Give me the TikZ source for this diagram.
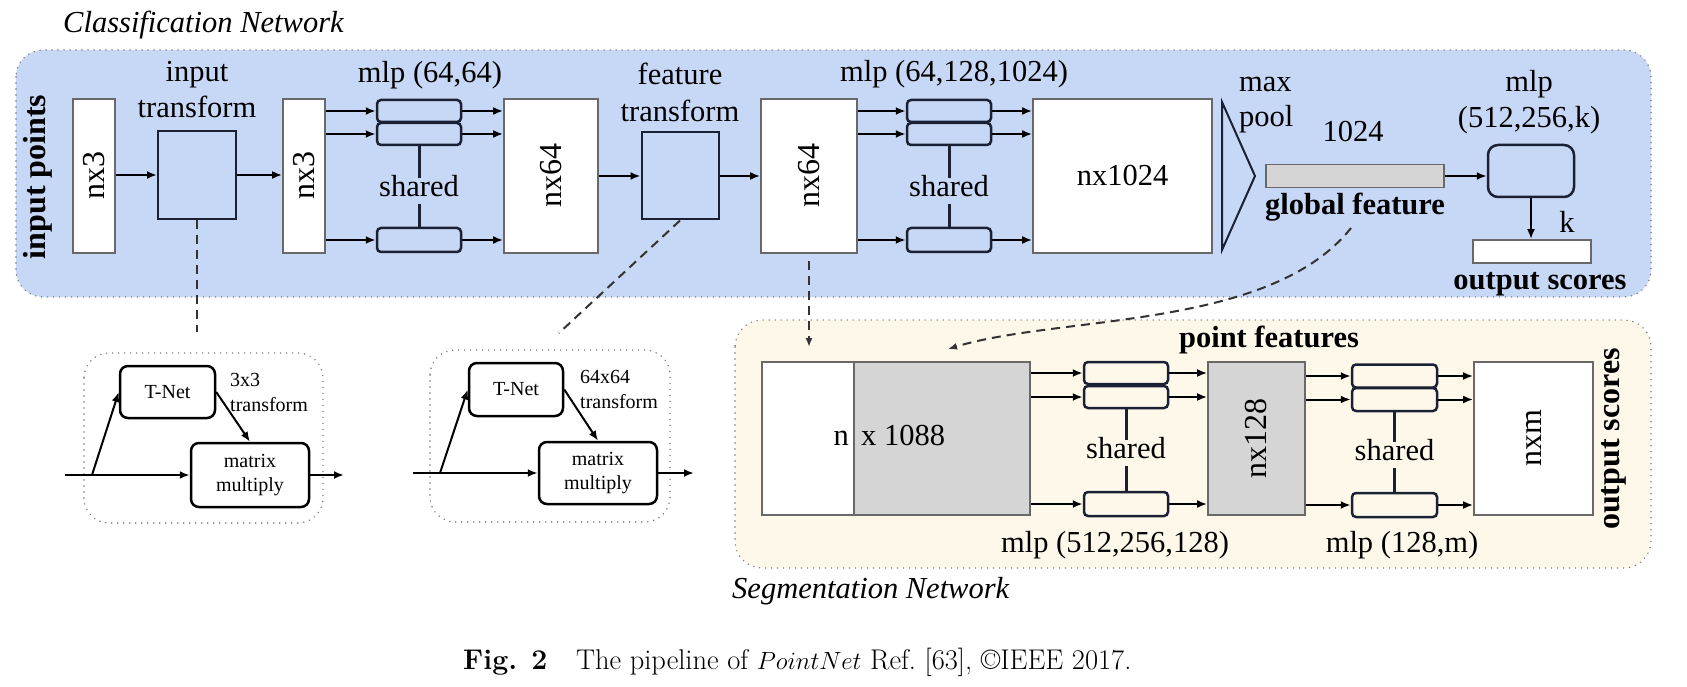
\documentclass[tikz,border=0pt]{standalone}
\usepackage{fontspec}
\newfontfamily\tnr{Liberation Serif}
\usetikzlibrary{arrows.meta,calc}
\definecolor{clsblue}{RGB}{199,216,246}
\definecolor{segbeige}{RGB}{253,248,234}
\definecolor{boxgray}{RGB}{213,213,213}
\definecolor{navy}{RGB}{27,33,53}
\definecolor{edgegray}{RGB}{105,105,105}
\definecolor{dotgray}{RGB}{120,120,120}
\newcommand\fmain{\tnr\fontsize{30.5}{36}\selectfont}
\newcommand\frot{\tnr\fontsize{32}{38}\selectfont}
\newcommand\fsmall{\tnr\fontsize{20}{24}\selectfont}
\tikzset{
 lbl/.style={font=\fmain, inner sep=0pt},
 blbl/.style={font=\fmain\bfseries, inner sep=0pt},
 ilbl/.style={font=\fmain\itshape, inner sep=0pt},
 rlbl/.style={font=\frot, inner sep=0pt, rotate=90},
 rblbl/.style={font=\frot\bfseries, inner sep=0pt, rotate=90},
 slbl/.style={font=\fsmall, inner sep=0pt},
 tensor/.style={draw=edgegray, line width=1.8pt, fill=white, inner sep=0pt},
 gtensor/.style={tensor, fill=boxgray},
 mlpb/.style={draw=navy, line width=2.5pt, rounded corners=4pt, inner sep=0pt},
 tbox/.style={draw=navy, line width=2pt, inner sep=0pt},
 tnetb/.style={draw=black, line width=2.5pt, rounded corners=8pt, fill=white, inner sep=0pt, font=\fsmall, align=center},
 arr/.style={line width=2pt, -{Latex[length=10pt,width=8pt]}},
 dline/.style={line width=2pt, draw=black!80, dash pattern=on 9pt off 6pt},
 dotframe/.style={draw=dotgray, line width=1.6pt, dash pattern=on 0pt off 6pt, line cap=round, rounded corners=27pt},
 shline/.style={line width=3pt, draw=navy},
}
\begin{document}
\begin{tikzpicture}[x=1pt,y=-1pt]
\useasboundingbox (0,0) rectangle (1687,687);

% ---------------- Classification network ----------------
\draw[dotframe, fill=clsblue] (16,50) rectangle (1651,297);
\node[ilbl, anchor=base west] (clsT) at (63,33) {Classification Network};
\node[rblbl] (inpts) at (38,177) {input points};

\node[tensor, minimum width=42, minimum height=154] (nxa) at (94,176) {};
\node[rlbl] (nxaT) at (nxa) {nx3};
\node[tbox, minimum width=78, minimum height=88] (itb) at (197,175) {};
\node[lbl, anchor=base] (itT1) at (197,82) {input};
\node[lbl, anchor=base] (itT2) at (197,118) {transform};
\node[tensor, minimum width=42, minimum height=154] (nxb) at (304,176) {};
\node[rlbl] (nxbT) at (nxb) {nx3};
\draw[arr] (nxa.east |- itb) -- (itb.west);
\draw[arr] (itb.east) -- (itb -| nxb.west);

% mlp (64,64)
\node[mlpb, minimum width=84, minimum height=22] (m1a) at (419,111) {};
\node[mlpb, minimum width=84, minimum height=22] (m1b) at (419,134) {};
\node[mlpb, minimum width=84, minimum height=24] (m1c) at (419,240) {};
\node[lbl, anchor=base] (m1T) at (430,83) {mlp (64,64)};
\node[lbl] (sh1) at (419,186) {shared};
\draw[shline] (m1b.south) -- ($(sh1.north)+(0,3)$);
\draw[shline] ($(sh1.south)+(0,7)$) -- (m1c.north);
\node[tensor, minimum width=94, minimum height=154] (nx64a) at (551,176) {};
\node[rlbl] (nx64aT) at (nx64a) {nx64};
\foreach \m in {m1a,m1b,m1c}{
  \draw[arr] (nxb.east |- \m) -- (\m.west);
  \draw[arr] (\m.east) -- (\m -| nx64a.west);
}

% feature transform
\node[tbox, minimum width=77, minimum height=87] (ftb) at (680,176) {};
\node[lbl, anchor=base] (ftT1) at (680,85) {feature};
\node[lbl, anchor=base] (ftT2) at (680,122) {transform};
\node[tensor, minimum width=96, minimum height=154] (nx64b) at (809,176) {};
\node[rlbl] (nx64bT) at (nx64b) {nx64};
\draw[arr] (nx64a.east |- ftb) -- (ftb.west);
\draw[arr] (ftb.east) -- (ftb -| nx64b.west);

% mlp (64,128,1024)
\node[mlpb, minimum width=84, minimum height=22] (m2a) at (949,111) {};
\node[mlpb, minimum width=84, minimum height=22] (m2b) at (949,134) {};
\node[mlpb, minimum width=84, minimum height=24] (m2c) at (949,240) {};
\node[lbl, anchor=base] (m2T) at (954,82) {mlp (64,128,1024)};
\node[lbl] (sh2) at (949,186) {shared};
\draw[shline] (m2b.south) -- ($(sh2.north)+(0,3)$);
\draw[shline] ($(sh2.south)+(0,7)$) -- (m2c.north);
\node[tensor, minimum width=179, minimum height=154] (nx1024) at (1122.5,176) {};
\node[lbl] (nx1024T) at (nx1024) {nx1024};
\foreach \m in {m2a,m2b,m2c}{
  \draw[arr] (nx64b.east |- \m) -- (\m.west);
  \draw[arr] (\m.east) -- (\m -| nx1024.west);
}

% max pool
\coordinate (mpA) at (1222,102);
\coordinate (mpB) at (1255,176);
\coordinate (mpC) at (1222,250);
\draw[line width=2pt, draw=navy, line join=miter] (mpA) -- (mpB) -- (mpC) -- cycle;
\node[lbl, anchor=base west] (maxT) at (1239,92) {max};
\node[lbl, anchor=base west] (poolT) at (1239,127) {pool};

% global feature
\node[lbl, anchor=base] (gfN) at (1353,142) {1024};
\node[draw=edgegray, line width=1.8pt, fill=boxgray, minimum width=178, minimum height=23, inner sep=0pt] (gf) at (1355,176) {};
\node[blbl, anchor=base] (gfT) at (1355,215) {global feature};

% mlp (512,256,k)
\node[mlpb, rounded corners=10pt, minimum width=86, minimum height=52] (m3) at (1531,171) {};
\node[lbl, anchor=base] (m3T1) at (1529,92) {mlp};
\node[lbl, anchor=base] (m3T2) at (1529,128) {(512,256,k)};
\draw[arr] (gf.east) -- (gf -| m3.west);
\node[tensor, minimum width=118, minimum height=23] (outb) at (1532,251.5) {};
\draw[arr] (m3.south) -- (m3.south |- outb.north);
\node[lbl, anchor=base] (kT) at (1567,233) {k};
\node[blbl, anchor=base] (osT) at (1540,289) {output scores};

% ---------------- T-Net details ----------------
\draw[dotframe, rounded corners=25pt] (84,353) rectangle (323,523);
\node[tnetb, minimum width=95, minimum height=52] (tn1) at (167.5,392) {T-Net};
\node[slbl, anchor=base west] (tn1a) at (230,386) {3x3};
\node[slbl, anchor=base west] (tn1b) at (230,411) {transform};
\node[tnetb, minimum width=118, minimum height=64] (mm1) at (250,475) {matrix\\multiply};
\coordinate (in1) at (65,475);
\coordinate (br1) at (92,475);
\coordinate (out1) at (344,475);
\draw[line width=2pt] (in1) -- (br1);
\draw[arr] (br1) -- (mm1.west);
\draw[arr] (br1) -- (tn1.west);
\draw[arr] (tn1.east) -- (mm1.north);
\draw[arr] (mm1.east) -- (out1);

\draw[dotframe, rounded corners=25pt] (430,350) rectangle (670,522);
\node[tnetb, minimum width=94, minimum height=53] (tn2) at (516,389.5) {T-Net};
\node[slbl, anchor=base west] (tn2a) at (580,383) {64x64};
\node[slbl, anchor=base west] (tn2b) at (580,408) {transform};
\node[tnetb, minimum width=118, minimum height=62] (mm2) at (598,473) {matrix\\multiply};
\coordinate (in2) at (413,473);
\coordinate (br2) at (440,473);
\coordinate (out2) at (694,473);
\draw[line width=2pt] (in2) -- (br2);
\draw[arr] (br2) -- (mm2.west);
\draw[arr] (br2) -- (tn2.west);
\draw[arr] (tn2.east) -- (mm2.north);
\draw[arr] (mm2.east) -- (out2);

% ---------------- Segmentation network ----------------
\draw[dotframe, fill=segbeige] (735,320) rectangle (1651,568);
\node[ilbl, anchor=base west] (segT) at (732,598) {Segmentation Network};
\node[tensor, minimum width=92, minimum height=153] (segw) at (808,438.5) {};
\node[gtensor, minimum width=176, minimum height=153] (segg) at (942,438.5) {};
\node[lbl, anchor=base east] (segN) at (849,445) {n};
\node[lbl, anchor=base west] (segX) at (861,445) {x 1088};
\node[blbl, anchor=base] (pfT) at (1269,347) {point features};

\node[mlpb, minimum width=84, minimum height=22] (s1a) at (1126,373) {};
\node[mlpb, minimum width=84, minimum height=22] (s1b) at (1126,397) {};
\node[mlpb, minimum width=84, minimum height=24] (s1c) at (1126,504) {};
\node[lbl] (sh3) at (1126,448) {shared};
\draw[shline] (s1b.south) -- ($(sh3.north)+(0,3)$);
\draw[shline] ($(sh3.south)+(0,7)$) -- (s1c.north);
\node[lbl, anchor=base] (s1T) at (1115,552) {mlp (512,256,128)};
\node[gtensor, minimum width=97, minimum height=153] (nx128) at (1256.5,438.5) {};
\node[rlbl] (nx128T) at (nx128) {nx128};
\foreach \m in {s1a,s1b,s1c}{
  \draw[arr] (segg.east |- \m) -- (\m.west);
  \draw[arr] (\m.east) -- (\m -| nx128.west);
}

\node[mlpb, minimum width=85, minimum height=23] (s2a) at (1394.5,376) {};
\node[mlpb, minimum width=85, minimum height=23] (s2b) at (1394.5,399.5) {};
\node[mlpb, minimum width=85, minimum height=24] (s2c) at (1394.5,505) {};
\node[lbl] (sh4) at (1394.5,450) {shared};
\draw[shline] (s2b.south) -- ($(sh4.north)+(0,3)$);
\draw[shline] ($(sh4.south)+(0,7)$) -- (s2c.north);
\node[lbl, anchor=base] (s2T) at (1402,552) {mlp (128,m)};
\node[tensor, minimum width=119, minimum height=153] (nxm) at (1533.5,438.5) {};
\node[rlbl] (nxmT) at (nxm) {nxm};
\foreach \m in {s2a,s2b,s2c}{
  \draw[arr] (nx128.east |- \m) -- (\m.west);
  \draw[arr] (\m.east) -- (\m -| nxm.west);
}
\node[rblbl] (os2T) at (1614,439) {output scores};

% ---------------- dashed links ----------------
\coordinate (d1e) at (197,332);
\draw[dline] (itb.south) -- (d1e);
\coordinate (d2e) at (559,333);
\draw[dline] (ftb.south) -- (d2e);
\coordinate (d3s) at (809,261);
\coordinate (d3e) at (809,347);
\draw[dline, -{Latex[length=9pt,width=7pt]}] (d3s) -- (d3e);
\coordinate (gfs) at (1351,228);
\coordinate (d4e) at (948,349);
\draw[dline, -{Latex[length=9pt,width=7pt]}] (gfs) .. controls (1270,330) and (1060,315) .. (d4e);

% ---------------- caption ----------------
\node[anchor=base west, inner sep=0pt, font=\fontsize{28.5}{34}\selectfont] (cap) at (463,669)
  {\textbf{Fig. 2}\hspace{1em}The pipeline of $PointNet$ Ref.~[63], \textcopyright IEEE 2017.};
\end{tikzpicture}
\end{document}
